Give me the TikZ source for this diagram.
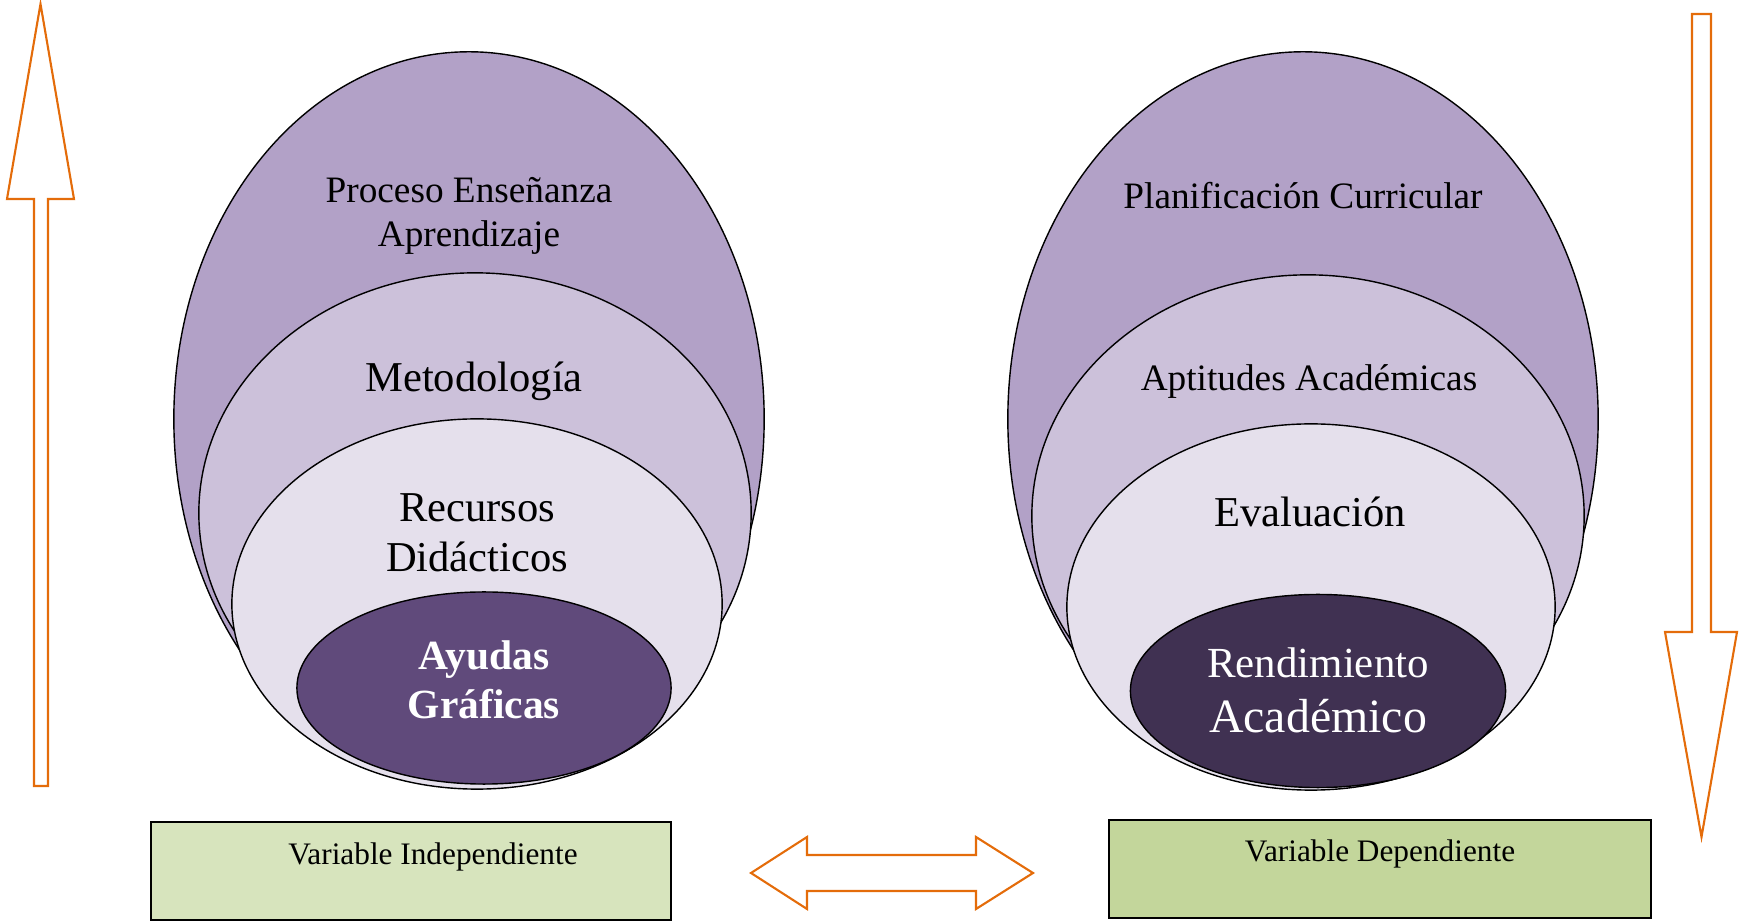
\documentclass[tikz,border=0pt]{standalone}
\usepackage{fontspec}
\setmainfont{Liberation Serif}
\usetikzlibrary{shapes.geometric,positioning}

\definecolor{lilaA}{HTML}{B2A1C7}
\definecolor{lilaB}{HTML}{CCC1DA}
\definecolor{lilaC}{HTML}{E5E0EC}
\definecolor{lilaD}{HTML}{604A7B}
\definecolor{lilaE}{HTML}{403152}
\definecolor{verdeA}{HTML}{D7E4BD}
\definecolor{verdeB}{HTML}{C3D69B}
\definecolor{naranja}{HTML}{E46C0A}

\begin{document}
\begin{tikzpicture}[
x=0.01cm,
y=-0.01cm,
layer/.style={
  draw=black,
  line width=0.4pt,
  ellipse,
  inner sep=0pt
  },
tag/.style={
  inner sep=0pt,
  align=center
  },
blockarrow/.style={
  draw=naranja,
  line width=0.6pt,
  fill=white,
  line join=miter
  },
varbox/.style={
  draw=black,
  line width=0.6pt,
  inner sep=0pt,
  minimum width=5.2cm,
  minimum height=0.98cm
  }
]
\useasboundingbox (0,0) rectangle (1739,922);

% capas de las dos variables
\foreach \nm/\cx/\cy/\w/\h/\col in {
  pea/469/419/5.90/7.34/lilaA, met/475/513/5.52/4.80/lilaB,
  rec/477/604/4.90/3.70/lilaC, ayu/484/688/3.74/1.92/lilaD,
  pla/1303/419/5.90/7.34/lilaA, apt/1308/516/5.52/4.82/lilaB,
  eva/1311/607/4.88/3.66/lilaC, ren/1318/691/3.75/1.93/lilaE}
  \node[layer, fill=\col, minimum width=\w cm, minimum height=\h cm]
    (\nm) at (\cx,\cy) {};

\node[tag, font=\fontsize{10.6}{12.5}\selectfont] (t-pea) at (469,216)
  {Proceso Enseñanza\\Aprendizaje};
\node[tag, font=\fontsize{12.1}{14}\selectfont] (t-met) at (474,381) {Metodología};
\node[tag, font=\fontsize{12.1}{14.2}\selectfont] (t-rec) at (477,533)
  {Recursos\\Didácticos};
\node[tag, text=white, font=\bfseries\fontsize{11.8}{13.9}\selectfont] (t-ayu)
  at (484,680) {Ayudas\\Gráficas};

\node[tag, font=\fontsize{10.6}{12.5}\selectfont] (t-pla) at (1303,196)
  {Planificación Curricular};
\node[tag, font=\fontsize{10.6}{12.5}\selectfont] (t-apt) at (1309,382)
  {Aptitudes Académicas};
\node[tag, font=\fontsize{12.1}{14}\selectfont] (t-eva) at (1310,512) {Evaluación};
\node[tag, text=white] (t-ren) at (1318,690)
  {\fontsize{12.2}{14}\selectfont Rendimiento\\[3.6pt]
   \fontsize{13.6}{15}\selectfont Académico};

% recuadros
\node[varbox, fill=verdeA] (vi) at (411,871) {};
\node[varbox, fill=verdeB, minimum width=5.42cm] (vd) at (1380,869) {};
\node[tag, font=\fontsize{8.9}{10.5}\selectfont] (t-vi) at (433,857)
  {Variable Independiente};
\node[tag, font=\fontsize{8.9}{10.5}\selectfont] (t-vd) at (1380,854)
  {Variable Dependiente};

% flechas
\draw[blockarrow] (34,786) -- (34,199) -- (7,199) -- (40.5,4) -- (74,199)
  -- (48,199) -- (48,786) -- cycle;
\draw[blockarrow] (1692,14) -- (1711,14) -- (1711,632) -- (1737,632)
  -- (1701.5,837) -- (1665,632) -- (1692,632) -- cycle;
\draw[blockarrow] (751,873) -- (807,837) -- (807,855) -- (976,855)
  -- (976,837) -- (1033,873) -- (976,909) -- (976,891) -- (807,891)
  -- (807,909) -- cycle;
\end{tikzpicture}
\end{document}
